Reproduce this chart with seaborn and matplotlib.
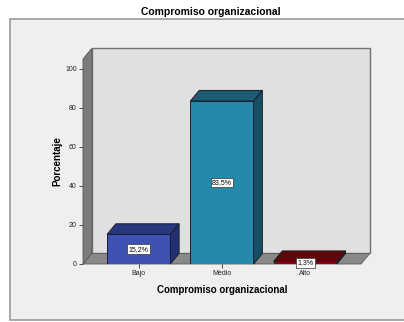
import matplotlib
matplotlib.use("Agg")
import matplotlib.pyplot as plt
import seaborn as sns
from matplotlib.patches import Polygon, Rectangle

categorias = ["Bajo", "Medio", "Alto"]
porcentajes = [15.2, 83.5, 1.3]
etiquetas = ["15,2%", "83,5%", "1,3%"]
yticks = [0, 20, 40, 60, 80, 100]

color_frente = ["#3d52b3", "#2589ab", "#7e0c0c"]
color_tapa = ["#28387f", "#1a5c74", "#5e0808"]
color_lado = ["#223071", "#164f64", "#520707"]

plt.rcParams["font.family"] = ["Liberation Sans", "DejaVu Sans"]

fig = plt.figure(figsize=(4.04, 3.22), dpi=100)
fig.patch.set_facecolor("white")

# marco gris de fondo (estilo SPSS)
fig.patches.append(Rectangle((10 / 404, 2 / 322), 1.2, 301 / 322, transform=fig.transFigure,
                             facecolor="#efefef", edgecolor="#9a9a9a", linewidth=1.2, zorder=-1))

ax = fig.add_axes([83 / 404, 58 / 322, 278 / 404, 205 / 322])
ax.set_facecolor("none")

sns.barplot(x=categorias, y=porcentajes, hue=categorias, palette=color_frente, saturation=1,
            width=0.76, edgecolor="#1e1e2a", linewidth=0.7, legend=False, ax=ax, zorder=3)

x0, x1 = -0.67, 2.67
ytop = 105
DX, DY = 0.105, 5.4
ax.set_xlim(x0, x1)
ax.set_ylim(0, ytop)

# paredes 3D
ax.add_patch(Rectangle((x0 + DX, DY), x1 - x0, ytop, facecolor="#e0e0e0", edgecolor="#707070",
                       linewidth=1.0, clip_on=False, zorder=0.5))
ax.add_patch(Polygon([(x0, 0), (x1, 0), (x1 + DX, DY), (x0 + DX, DY)], closed=True,
                     facecolor="#898989", edgecolor="#5a5a5a", linewidth=0.6, clip_on=False, zorder=0.7))
ax.add_patch(Polygon([(x0, 0), (x0 + DX, DY), (x0 + DX, ytop + DY), (x0, ytop)], closed=True,
                     facecolor="#7b7b7b", edgecolor="#555555", linewidth=0.6, clip_on=False, zorder=0.8))

# caras superior y lateral de cada barra
for p, ct, cl, txt in zip(ax.patches[:3], color_tapa, color_lado, etiquetas):
    x, w, h = p.get_x(), p.get_width(), p.get_height()
    ax.add_patch(Polygon([(x, h), (x + w, h), (x + w + DX, h + DY), (x + DX, h + DY)], closed=True,
                         facecolor=ct, edgecolor="#1e1e2a", linewidth=0.7, clip_on=False, zorder=3))
    ax.add_patch(Polygon([(x + w, 0), (x + w + DX, DY), (x + w + DX, h + DY), (x + w, h)], closed=True,
                         facecolor=cl, edgecolor="#1e1e2a", linewidth=0.7, clip_on=False, zorder=3))
    ax.text(x + w / 2, h / 2, txt, ha="center", va="center", fontsize=5, zorder=5,
            bbox=dict(boxstyle="square,pad=0.2", facecolor="white", edgecolor="#333333", linewidth=0.5))

for s in ax.spines.values():
    s.set_visible(False)

ax.set_yticks(yticks)
ax.tick_params(axis="both", labelsize=5, length=3, width=0.6, color="#333333", pad=1.5, labelcolor="#222222")

ax.set_xlabel("Compromiso organizacional", fontsize=7, fontweight="bold")
ax.xaxis.set_label_coords(0.5, -26 / 205)
ax.xaxis.label.set_va("center")
ax.set_ylabel("Porcentaje", fontsize=7, fontweight="bold")
ax.yaxis.set_label_coords(-26 / 278, 0.5)
ax.yaxis.label.set_va("center")

fig.text(211 / 404, 1 - 12 / 322, "Compromiso organizacional", ha="center", va="center",
         fontsize=7.5, fontweight="bold")

fig.savefig("out.png", dpi=100)
